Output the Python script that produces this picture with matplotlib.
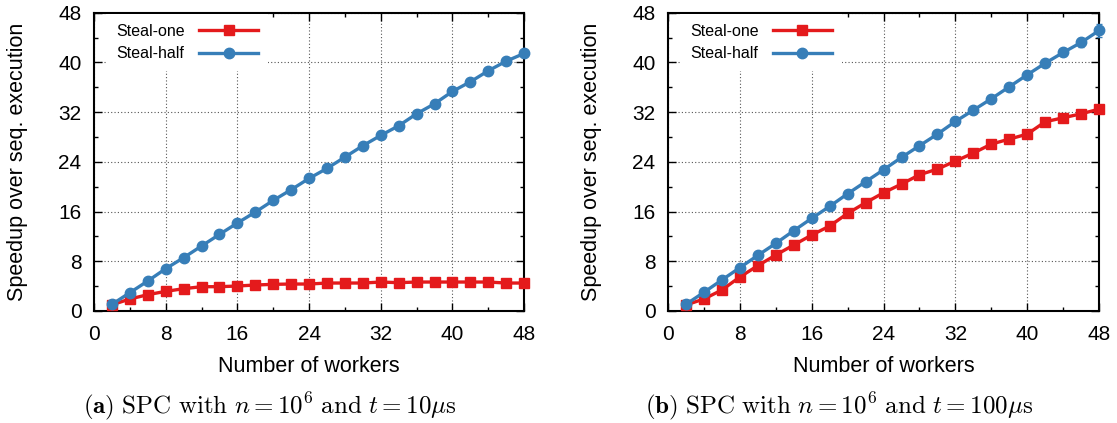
import matplotlib
matplotlib.use('Agg')
import matplotlib.pyplot as plt
from matplotlib.ticker import MultipleLocator

plt.rcParams['font.family'] = ['Liberation Sans', 'DejaVu Sans']
plt.rcParams['mathtext.fontset'] = 'cm'

# number of workers
workers = [2, 4, 6, 8, 10, 12, 14, 16, 18, 20, 22, 24,
           26, 28, 30, 32, 34, 36, 38, 40, 42, 44, 46, 48]

# (a) t = 10us
one_a = [1.0, 1.93, 2.63, 3.16, 3.59, 3.91, 3.91, 4.02, 4.18, 4.29, 4.34, 4.34,
         4.5, 4.5, 4.5, 4.66, 4.56, 4.66, 4.66, 4.66, 4.66, 4.66, 4.5, 4.5]
half_a = [1.07, 2.95, 4.83, 6.81, 8.58, 10.46, 12.33, 14.16, 15.92, 17.80, 19.52, 21.34,
          22.95, 24.77, 26.6, 28.26, 29.81, 31.74, 33.35, 35.34, 36.89, 38.66, 40.21, 41.45]

# (b) t = 100us
one_b = [0.97, 1.93, 3.38, 5.47, 7.29, 9.01, 10.62, 12.23, 13.67, 15.71, 17.43, 19.03,
         20.43, 21.93, 22.84, 24.13, 25.42, 26.86, 27.67, 28.47, 30.46, 31.1, 31.74, 32.49]
half_b = [1.07, 3.0, 4.99, 6.97, 8.95, 10.88, 12.92, 14.91, 16.84, 18.87, 20.80, 22.73,
          24.72, 26.6, 28.47, 30.51, 32.33, 34.16, 36.09, 38.02, 39.89, 41.61, 43.22, 45.15]
half_b_err = [0, 0, 0, 0, 0, 0, 0, 0, 0, 0, 0, 0,
              0, 0, 0, 0, 0, 0, 0, 0, 0.3, 0.5, 0.7, 1.0]

captions = [r'$\mathbf{(a)}\ \mathrm{SPC\ with}\ n = 10^6\ \mathrm{and}\ t = 10\mu\mathrm{s}$',
            r'$\mathbf{(b)}\ \mathrm{SPC\ with}\ n = 10^6\ \mathrm{and}\ t = 100\mu\mathrm{s}$']
caption_x = [270 / 1117, 839 / 1117]

red = '#e41a1c'
blue = '#377eb8'

fig = plt.figure(figsize=(11.17, 4.23), dpi=100)
ax1 = fig.add_axes([0.0842, 0.2648, 0.385, 0.705])
ax2 = fig.add_axes([0.598, 0.2648, 0.386, 0.705])

panels = [(ax1, one_a, half_a, None), (ax2, one_b, half_b, half_b_err)]
for i, (ax, one, half, err) in enumerate(panels):
    ax.plot(workers, one, color=red, lw=2.4, marker='s', ms=7.5,
            label='Steal-one', clip_on=False, zorder=3)
    if err is None:
        ax.plot(workers, half, color=blue, lw=2.4, marker='o', ms=7.5,
                label='Steal-half', clip_on=False, zorder=4)
    else:
        ax.errorbar(workers, half, yerr=err, color=blue, lw=2.4, marker='o', ms=7.5,
                    elinewidth=1.2, capsize=2, clip_on=False, zorder=4)
        # plain line handle for the legend
        ax.plot([], [], color=blue, lw=2.4, marker='o', ms=7.5, label='Steal-half')
    ax.set_xlim(0, 48)
    ax.set_ylim(0, 48)
    ax.xaxis.set_major_locator(MultipleLocator(8))
    ax.yaxis.set_major_locator(MultipleLocator(8))
    ax.xaxis.set_minor_locator(MultipleLocator(4))
    ax.yaxis.set_minor_locator(MultipleLocator(4))
    ax.tick_params(which='both', direction='in', top=True, right=True, labelsize=15)
    ax.tick_params(which='major', length=6, width=1, pad=10)
    ax.tick_params(which='minor', length=3, width=1)
    ax.tick_params(axis='y', which='major', pad=9)
    ax.grid(True, which='major', color='#555555', ls=(0, (1, 2)), lw=0.8)
    ax.set_axisbelow(True)
    for s in ax.spines.values():
        s.set_linewidth(1.5)
    ax.set_xlabel('Number of workers', fontsize=15.5)
    ax.set_ylabel('Speedup over seq. execution', fontsize=15.5)
    ax.xaxis.set_label_coords(0.5, -0.15)
    ax.yaxis.set_label_coords(-0.153, 0.5)
    handles, labels = ax.get_legend_handles_labels()
    leg = ax.legend(handles, labels, loc='upper left', bbox_to_anchor=(0.025, 1.0),
                    markerfirst=False, frameon=True,
                    fontsize=11.5, handlelength=3.7, borderaxespad=0.1, framealpha=1,
                    edgecolor='none', fancybox=False, borderpad=0.6, handletextpad=0.9,
                    labelspacing=0.45)
    leg.set_zorder(5)
    fig.text(caption_x[i], 0.04, captions[i], ha='center', va='center', fontsize=18)

fig.savefig('out.png', dpi=100)
